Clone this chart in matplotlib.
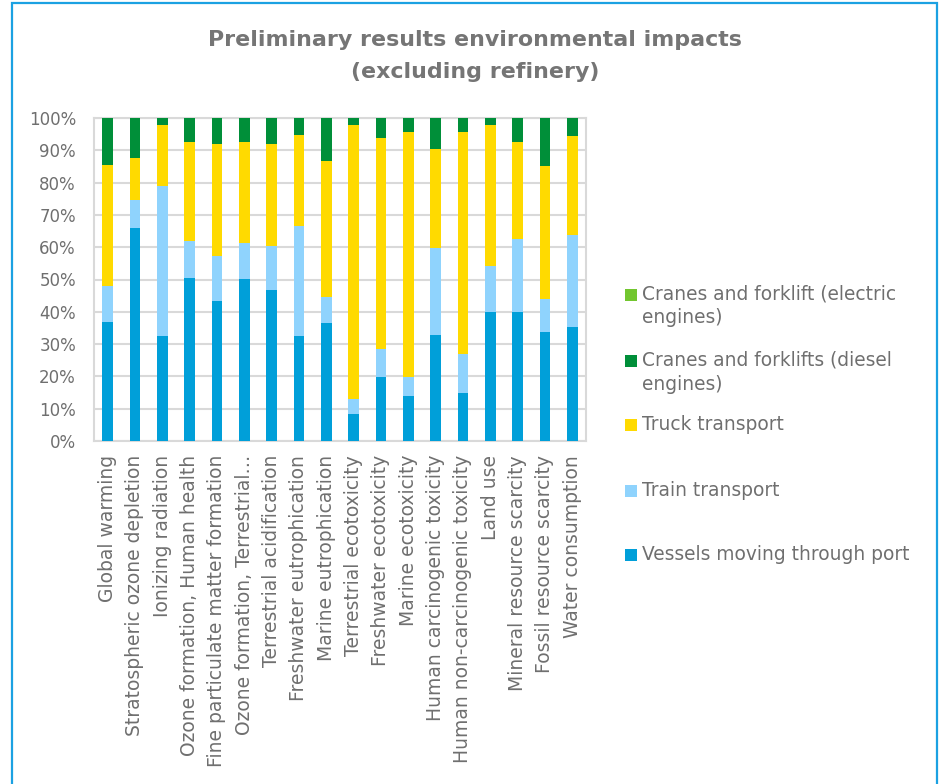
import matplotlib
matplotlib.use("Agg")
import matplotlib.pyplot as plt
from matplotlib.patches import Rectangle
import numpy as np

categories = [
    "Global warming",
    "Stratospheric ozone depletion",
    "Ionizing radiation",
    "Ozone formation, Human health",
    "Fine particulate matter formation",
    "Ozone formation, Terrestrial\u2026",
    "Terrestrial acidification",
    "Freshwater eutrophication",
    "Marine eutrophication",
    "Terrestrial ecotoxicity",
    "Freshwater ecotoxicity",
    "Marine ecotoxicity",
    "Human carcinogenic toxicity",
    "Human non-carcinogenic toxicity",
    "Land use",
    "Mineral resource scarcity",
    "Fossil resource scarcity",
    "Water consumption",
]

# Shares in percent per impact category
vessels = [36.7, 65.8, 32.6, 50.6, 43.2, 50.2, 46.9, 32.6, 36.4,
           8.4, 19.9, 13.8, 32.9, 15.0, 39.8, 40.0, 33.6, 35.4]
train = [11.4, 8.7, 46.2, 11.2, 14.2, 11.1, 13.6, 33.9, 8.2,
         4.6, 8.5, 6.1, 26.7, 11.8, 14.5, 22.5, 10.5, 28.3]
truck = [37.3, 13.1, 19.0, 30.8, 34.4, 31.2, 31.6, 28.1, 42.1,
         84.8, 65.4, 75.7, 30.8, 69.0, 43.5, 30.2, 41.1, 30.7]
diesel = [14.6, 12.4, 2.2, 7.4, 8.2, 7.5, 7.9, 5.4, 13.3,
          2.2, 6.2, 4.4, 9.6, 4.2, 2.2, 7.3, 14.8, 5.6]
electric = [0.0] * 18

series_names = [
    "Vessels moving through port",
    "Train transport",
    "Truck transport",
    "Cranes and forklifts (diesel\nengines)",
    "Cranes and forklift (electric\nengines)",
]
series_values = [vessels, train, truck, diesel, electric]
colors = ["#009fd9", "#8fd3fd", "#ffda00", "#008f39", "#72c62f"]

text_color = "#6f6f6f"
grid_color = "#d9d9d9"
plt.rcParams["font.family"] = ["DejaVu Sans"]

fig = plt.figure(figsize=(9.42, 7.84), dpi=100)
ax = fig.add_axes([94 / 942, 1 - 441 / 784, (586 - 94) / 942, (441 - 118) / 784])

x = np.arange(len(categories))
data = np.array(series_values)
totals = data.sum(axis=0)
shares = data / totals
bottom = np.zeros(len(categories))
for vals, col in zip(shares, colors):
    ax.bar(x, vals, width=0.4, bottom=bottom, color=col, zorder=3, linewidth=0)
    bottom += vals

ax.set_xlim(-0.5, len(categories) - 0.5)
ax.set_ylim(0, 1)
ax.set_yticks(np.linspace(0, 1, 11))
ax.set_yticklabels([f"{int(round(v * 100))}%" for v in np.linspace(0, 1, 11)])
ax.set_xticks(x)
ax.set_xticklabels(categories, rotation=90)
ax.tick_params(axis="y", length=0, pad=13, labelsize=12, labelcolor=text_color)
ax.tick_params(axis="x", length=0, pad=10, labelsize=13.5, labelcolor=text_color)
ax.grid(axis="y", color=grid_color, linewidth=1.5, zorder=0)
for s in ax.spines.values():
    s.set_color(grid_color)
    s.set_linewidth(1.5)

# Title
fig.text(475 / 942, 1 - 40 / 784, "Preliminary results environmental impacts",
         ha="center", va="center", fontsize=15.9, fontweight="bold", color="#757575")
fig.text(475 / 942, 1 - 72 / 784, "(excluding refinery)",
         ha="center", va="center", fontsize=15.9, fontweight="bold", color="#757575")

# Legend, top entry first
legend_rows = [
    (4, 295),
    (3, 361),
    (2, 425),
    (1, 491),
    (0, 555),
]
W, H = 942, 784
for idx, yc in legend_rows:
    fig.patches.append(Rectangle((625 / W, 1 - (yc + 6) / H), 12 / W, 12 / H,
                                 transform=fig.transFigure, facecolor=colors[idx],
                                 edgecolor="none"))
    fig.text(642 / W, 1 - (yc - 10) / H, series_names[idx], ha="left", va="top",
             fontsize=13.4, color=text_color, linespacing=1.3)

# Outer frame
frame = Rectangle((12 / W, -0.05), (937 - 12) / W, 1.05 - 3 / H,
                  transform=fig.transFigure, facecolor="none",
                  edgecolor="#1ba1e2", linewidth=1.6)
fig.patches.append(frame)

fig.savefig("out.png", dpi=100)
